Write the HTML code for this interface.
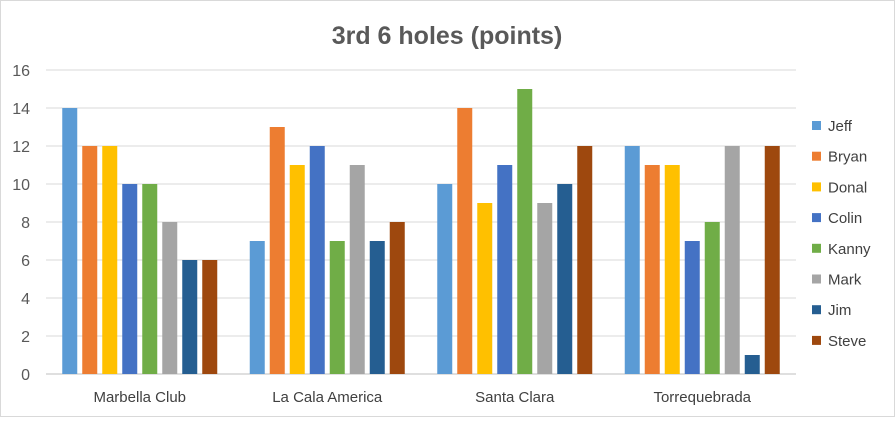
<!DOCTYPE html>
<html><head><meta charset="utf-8"><style>
body{margin:0;background:#fff;font-family:"Liberation Sans",sans-serif}
svg text{font-family:"Liberation Sans",sans-serif}
</style></head><body>
<svg width="895" height="417" xmlns="http://www.w3.org/2000/svg">
<rect x="0.5" y="0.5" width="894" height="416" fill="#fff" stroke="#d9d9d9"/>
<text x="447" y="44" text-anchor="middle" font-size="25" font-weight="bold" fill="#595959">3rd 6 holes (points)</text>
<g id="grid"></g><g id="bars"></g><g id="legend"></g>
</svg>
<script>
const categories=["Marbella Club","La Cala America","Santa Clara","Torrequebrada"];
const seriesNames=["Jeff","Bryan","Donal","Colin","Kanny","Mark","Jim","Steve"];
const jeff=[14,7,10,12];
const bryan=[12,13,14,11];
const donal=[12,11,9,11];
const colin=[10,12,11,7];
const kanny=[10,7,15,8];
const mark=[8,11,9,12];
const jim=[6,7,10,1];
const steve=[6,8,12,12];
const yTicks=[0,2,4,6,8,10,12,14,16];
const series=[jeff,bryan,donal,colin,kanny,mark,jim,steve];
const colors=["#5B9BD5","#ED7D31","#FFC000","#4472C4","#70AD47","#A5A5A5","#255E91","#9E480E"];
const NS="http://www.w3.org/2000/svg";
const L=46,R=796,Y0=374,PX=19;
const y=v=>Y0-v*PX;
const gw=(R-L)/categories.length;
function mk(tag,attrs,parent){const e=document.createElementNS(NS,tag);for(const k in attrs)e.setAttribute(k,attrs[k]);parent.appendChild(e);return e;}
const grid=document.getElementById('grid'),bars=document.getElementById('bars'),leg=document.getElementById('legend');
yTicks.forEach(t=>{
 const l=mk('line',{x1:L,x2:R,y1:y(t),y2:y(t),stroke:t===0?'#bfbfbf':'#d9d9d9','stroke-width':1},grid);
 
 
 const tx=mk('text',{x:30,y:y(t)+6,'text-anchor':'end','font-size':16,fill:'#595959'},grid);
 tx.textContent=t;
 
 
});
categories.forEach((c,i)=>{
 const tx=mk('text',{x:L+gw*(i+0.5),y:402,'text-anchor':'middle','font-size':15,fill:'#404040'},grid);
 tx.textContent=c;
 
 
});
const bw=15,step=20,off=(gw-(step*7+bw))/2;
series.forEach((s,j)=>{
 s.forEach((v,i)=>{
  const r=mk('rect',{x:L+gw*i+off+j*step,y:y(v),width:bw,height:v*PX,fill:colors[j]},bars);
  
  
 });
 const g=mk('g',{},leg);
 
 
 const ly=126+j*30.7;
 mk('rect',{x:812,y:ly-5,width:9,height:9,fill:colors[j]},g);
 const t=mk('text',{x:828,y:ly+5,'font-size':15,fill:'#404040'},g);
 t.textContent=seriesNames[j];
});
</script>
</body></html>
